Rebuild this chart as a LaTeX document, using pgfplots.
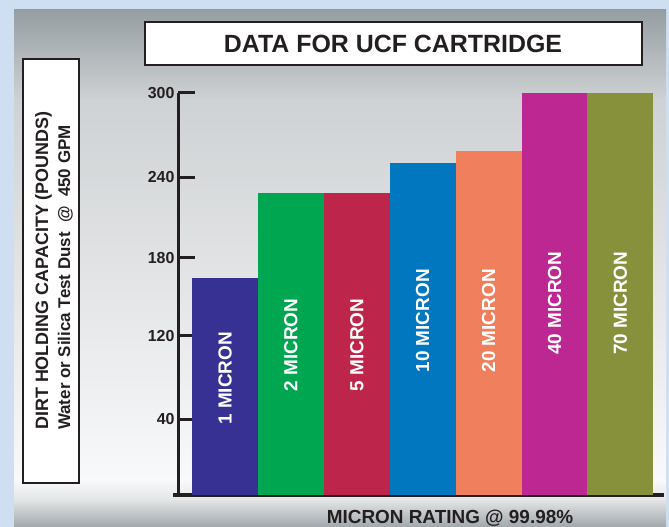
\documentclass[border=0pt]{standalone}
\usepackage{fontspec}
\setmainfont{Liberation Sans}
\usepackage{pgfplots}
\pgfplotsset{compat=1.18}
\definecolor{bgblue}{HTML}{CFDFF2}
\definecolor{gA}{HTML}{959EA2}
\definecolor{gB}{HTML}{CFD2D4}
\definecolor{gC}{HTML}{F8F9FA}
\definecolor{gD}{HTML}{E2E4E5}
\definecolor{gE}{HTML}{A0A8AC}
\definecolor{axisblack}{HTML}{231F20}
\definecolor{c1}{HTML}{363192}
\definecolor{c2}{HTML}{00A650}
\definecolor{c3}{HTML}{BE254B}
\definecolor{c4}{HTML}{0077BE}
\definecolor{c5}{HTML}{F07F5E}
\definecolor{c6}{HTML}{BC2792}
\definecolor{c7}{HTML}{87903A}
\begin{document}
\begin{tikzpicture}
\useasboundingbox (0,0) rectangle (669bp,527bp);
\fill[bgblue] (0,0) rectangle (669bp,527bp);
% panel gradient
\shade[top color=gA, bottom color=gB] (14bp,426.5bp) rectangle (666bp,517bp);
\shade[top color=gB, bottom color=gC] (14bp,46.5bp) rectangle (666bp,427bp);
\shade[top color=gC, bottom color=gD] (14bp,26.5bp) rectangle (666bp,47bp);
\shade[top color=gD, bottom color=gE] (14bp,0bp) rectangle (666bp,27bp);
% title box
\draw[line width=1.5bp, draw=axisblack, fill=white] (145bp,462bp) rectangle (642bp,505bp);
\node[text=axisblack, font=\fontsize{25}{25}\selectfont\bfseries] at (393bp,483.5bp) {DATA FOR UCF CARTRIDGE};
% y label box
\draw[line width=1.5bp, draw=axisblack, fill=white] (23bp,44bp) rectangle (79bp,468bp);
\node[rotate=90, anchor=base west, inner sep=0pt, text=axisblack, font=\fontsize{18}{18}\selectfont\bfseries] at (48bp,97bp) {DIRT HOLDING CAPACITY (POUNDS)};
\node[rotate=90, anchor=base west, inner sep=0pt, text=axisblack, font=\fontsize{17}{17}\selectfont\bfseries] at (70bp,97bp) {Water or Silica Test Dust \ @ \ 450 GPM};
\begin{axis}[
  at={(178bp,32bp)}, anchor=south west,
  x=65.9bp, y=1.34bp,
  xmin=-0.713, xmax=6.66, ymin=0, ymax=300,
  axis lines*=left,
  axis line style={line width=3bp, draw=axisblack},
  x axis line style={shorten <=-5bp},
  xtick=\empty,
  ytick={56.7,118.7,176.9,237.3,300},
  yticklabels={40,120,180,240,300},
  tick align=inside, major tick length=17bp,
  ytick style={line width=3bp, draw=axisblack},
  yticklabel style={font=\fontsize{16}{16}\selectfont\bfseries, text=axisblack},
  /pgf/number format/assume math mode=true,
  ybar, bar width=65.9bp,
  clip=false,
]
\addplot[fill=c1, draw=none, bar shift=0pt] coordinates {(0,162)};
\addplot[fill=c2, draw=none, bar shift=0pt] coordinates {(1,225)};
\addplot[fill=c3, draw=none, bar shift=0pt] coordinates {(2,225)};
\addplot[fill=c4, draw=none, bar shift=0pt] coordinates {(3,248)};
\addplot[fill=c5, draw=none, bar shift=0pt] coordinates {(4,257)};
\addplot[fill=c6, draw=none, bar shift=0pt] coordinates {(5,300)};
\addplot[fill=c7, draw=none, bar shift=0pt] coordinates {(6,300)};
\begin{scope}[every node/.style={rotate=90, text=white, font=\fontsize{19}{19}\selectfont\bfseries}]
\node at (axis cs:0,87) {1 MICRON};
\node at (axis cs:1,112) {2 MICRON};
\node at (axis cs:2,112) {5 MICRON};
\node at (axis cs:3,130) {10 MICRON};
\node at (axis cs:4,130) {20 MICRON};
\node at (axis cs:5,143) {40 MICRON};
\node at (axis cs:6,143) {70 MICRON};
\end{scope}
\end{axis}
\node[anchor=base, inner sep=0pt, text=axisblack, font=\fontsize{19}{19}\selectfont\bfseries] at (450bp,4bp) {MICRON RATING @ 99.98\%};
\end{tikzpicture}
\end{document}
